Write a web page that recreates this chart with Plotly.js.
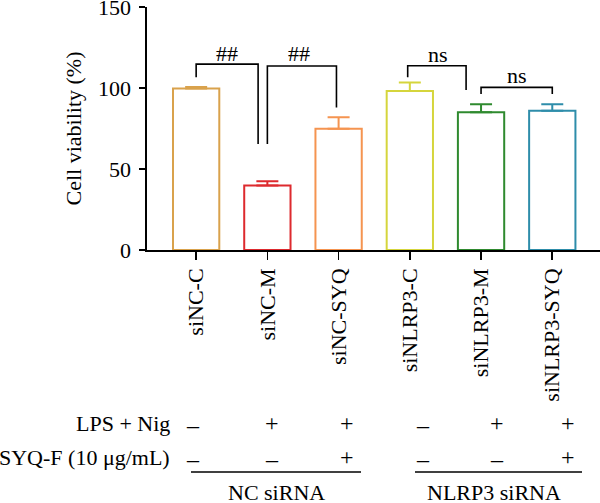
<!DOCTYPE html>
<html>
<head>
<meta charset="utf-8">
<script src="https://cdn.plot.ly/plotly-3.0.1.min.js"></script>
<style>
  html, body { margin: 0; padding: 0; background: #fff; }
  #chart { width: 600px; height: 503px; }
</style>
</head>
<body>
<div id="chart"></div>
<script>
// Cell viability per group (mean with upper SD)
const groups = ['siNC-C', 'siNC-M', 'siNC-SYQ', 'siNLRP3-C', 'siNLRP3-M', 'siNLRP3-SYQ'];
const viability = [99.8, 39.8, 74.8, 98.2, 85.0, 86.0];
const viabilitySD = [0.8, 2.6, 7.2, 5.2, 5.0, 4.0];
const barColors = ['#D9A24C', '#DD2A2E', '#F59450', '#D5D53C', '#2F8A2F', '#2E8DAA'];

// Treatment table below the chart
const rowLabels = ['LPS + Nig', 'SYQ-F (10 μg/mL)'];
const lpsNig = ['–', '+', '+', '–', '+', '+'];
const syqF = ['–', '–', '+', '–', '–', '+'];
const groupNames = ['NC siRNA', 'NLRP3 siRNA'];

// Significance brackets: [left group, right group, top, left leg end, right leg end, label, label x, label y]
const brackets = [
  [0, 0.87, 114.8, 106.6, 65.4, '##', 0.43, 121.5],
  [1.0, 1.97, 113.6, 65.4, 88.0, '##', 1.45, 121.5],
  [2.97, 3.79, 113.8, 106.6, 98.8, 'ns', 3.40, 121.0],
  [4.0, 5.0, 100.4, 96.3, 96.3, 'ns', 4.50, 107.8]
];

const W = 600, H = 503;
const M = { l: 147, r: 0, t: 7, b: 253 };
const plotW = W - M.l - M.r, plotH = H - M.t - M.b;
const px2x = px => (px - M.l) / plotW;
const py2y = py => (H - M.b - py) / plotH;

const FONT = 'Liberation Serif, Times New Roman, serif';
const FS = 22;

// Plotly error bars take one colour per trace, so draw one trace per bar
const traces = groups.map((g, i) => ({
  type: 'bar',
  x: [g],
  y: [viability[i]],
  width: 0.65,
  marker: { color: '#ffffff', line: { color: barColors[i], width: 2 } },
  error_y: {
    type: 'data', symmetric: false,
    array: [viabilitySD[i]], arrayminus: [0],
    thickness: 2, width: 11, color: barColors[i]
  },
  showlegend: false,
  hoverinfo: 'skip'
}));

const shapes = [];
const annotations = [];
brackets.forEach(b => {
  const [x0, x1, top, y0, y1, label, lx, ly] = b;
  shapes.push({
    type: 'path', xref: 'x', yref: 'y',
    path: `M ${x0} ${y0} L ${x0} ${top} L ${x1} ${top} L ${x1} ${y1}`,
    line: { color: '#000', width: 1.6 }
  });
  annotations.push({
    xref: 'x', yref: 'y', x: lx, y: ly, text: label, showarrow: false,
    font: { family: FONT, size: FS, color: '#000' }, xanchor: 'center', yanchor: 'middle'
  });
});

// Table geometry (pixel columns / rows)
const colPx = [193, 272, 347, 423, 496.5, 568];
const rowPy = [423, 457];
const labelRightPx = 172;
rowLabels.forEach((t, r) => {
  annotations.push({
    xref: 'paper', yref: 'paper', x: px2x(labelRightPx), y: py2y(rowPy[r]),
    text: t, showarrow: false, xanchor: 'right', yanchor: 'middle',
    font: { family: FONT, size: FS, color: '#000' }
  });
});
[lpsNig, syqF].forEach((row, r) => {
  row.forEach((s, c) => {
    annotations.push({
      xref: 'paper', yref: 'paper', x: px2x(colPx[c]), y: py2y(rowPy[r] + (s === '–' ? 2 : 0)),
      text: s, showarrow: false, xanchor: 'center', yanchor: 'middle',
      font: { family: FONT, size: 24, color: '#000' }
    });
  });
});
const groupLines = [[191, 361], [415, 582]];
const groupLabelPx = [276, 494];
groupLines.forEach((l, i) => {
  shapes.push({
    type: 'line', xref: 'paper', yref: 'paper',
    x0: px2x(l[0]), x1: px2x(l[1]), y0: py2y(472), y1: py2y(472),
    line: { color: '#000', width: 1.6 }
  });
  annotations.push({
    xref: 'paper', yref: 'paper', x: px2x(groupLabelPx[i]), y: py2y(492),
    text: groupNames[i], showarrow: false, xanchor: 'center', yanchor: 'middle',
    font: { family: FONT, size: FS, color: '#000' }
  });
});

const layout = {
  width: W, height: H,
  margin: M,
  paper_bgcolor: '#fff', plot_bgcolor: '#fff',
  font: { family: FONT, size: FS, color: '#000' },
  xaxis: {
    range: [-0.69, 5.67],
    showline: true, linecolor: '#000', linewidth: 1.6,
    ticks: 'outside', ticklen: 8, tickwidth: 1.6, tickcolor: '#000',
    tickangle: -90, showgrid: false, zeroline: false,
    tickfont: { family: FONT, size: FS, color: '#000' },
    fixedrange: true
  },
  yaxis: {
    range: [0, 150.05],
    tickvals: [0, 50, 100, 150],
    showline: true, linecolor: '#000', linewidth: 1.6,
    ticks: 'outside', ticklen: 6, tickwidth: 1.6, tickcolor: '#000',
    ticklabelstandoff: 4,
    ticklabeloverflow: 'allow',
    showgrid: false, zeroline: false,
    tickfont: { family: FONT, size: FS, color: '#000' },
    title: { text: 'Cell viability (%)', font: { family: FONT, size: FS, color: '#000' }, standoff: 10 },
    automargin: false,
    fixedrange: true
  },
  shapes: shapes,
  annotations: annotations,
  showlegend: false
};

Plotly.newPlot('chart', traces, layout, { staticPlot: true, displayModeBar: false });
</script>
</body>
</html>
